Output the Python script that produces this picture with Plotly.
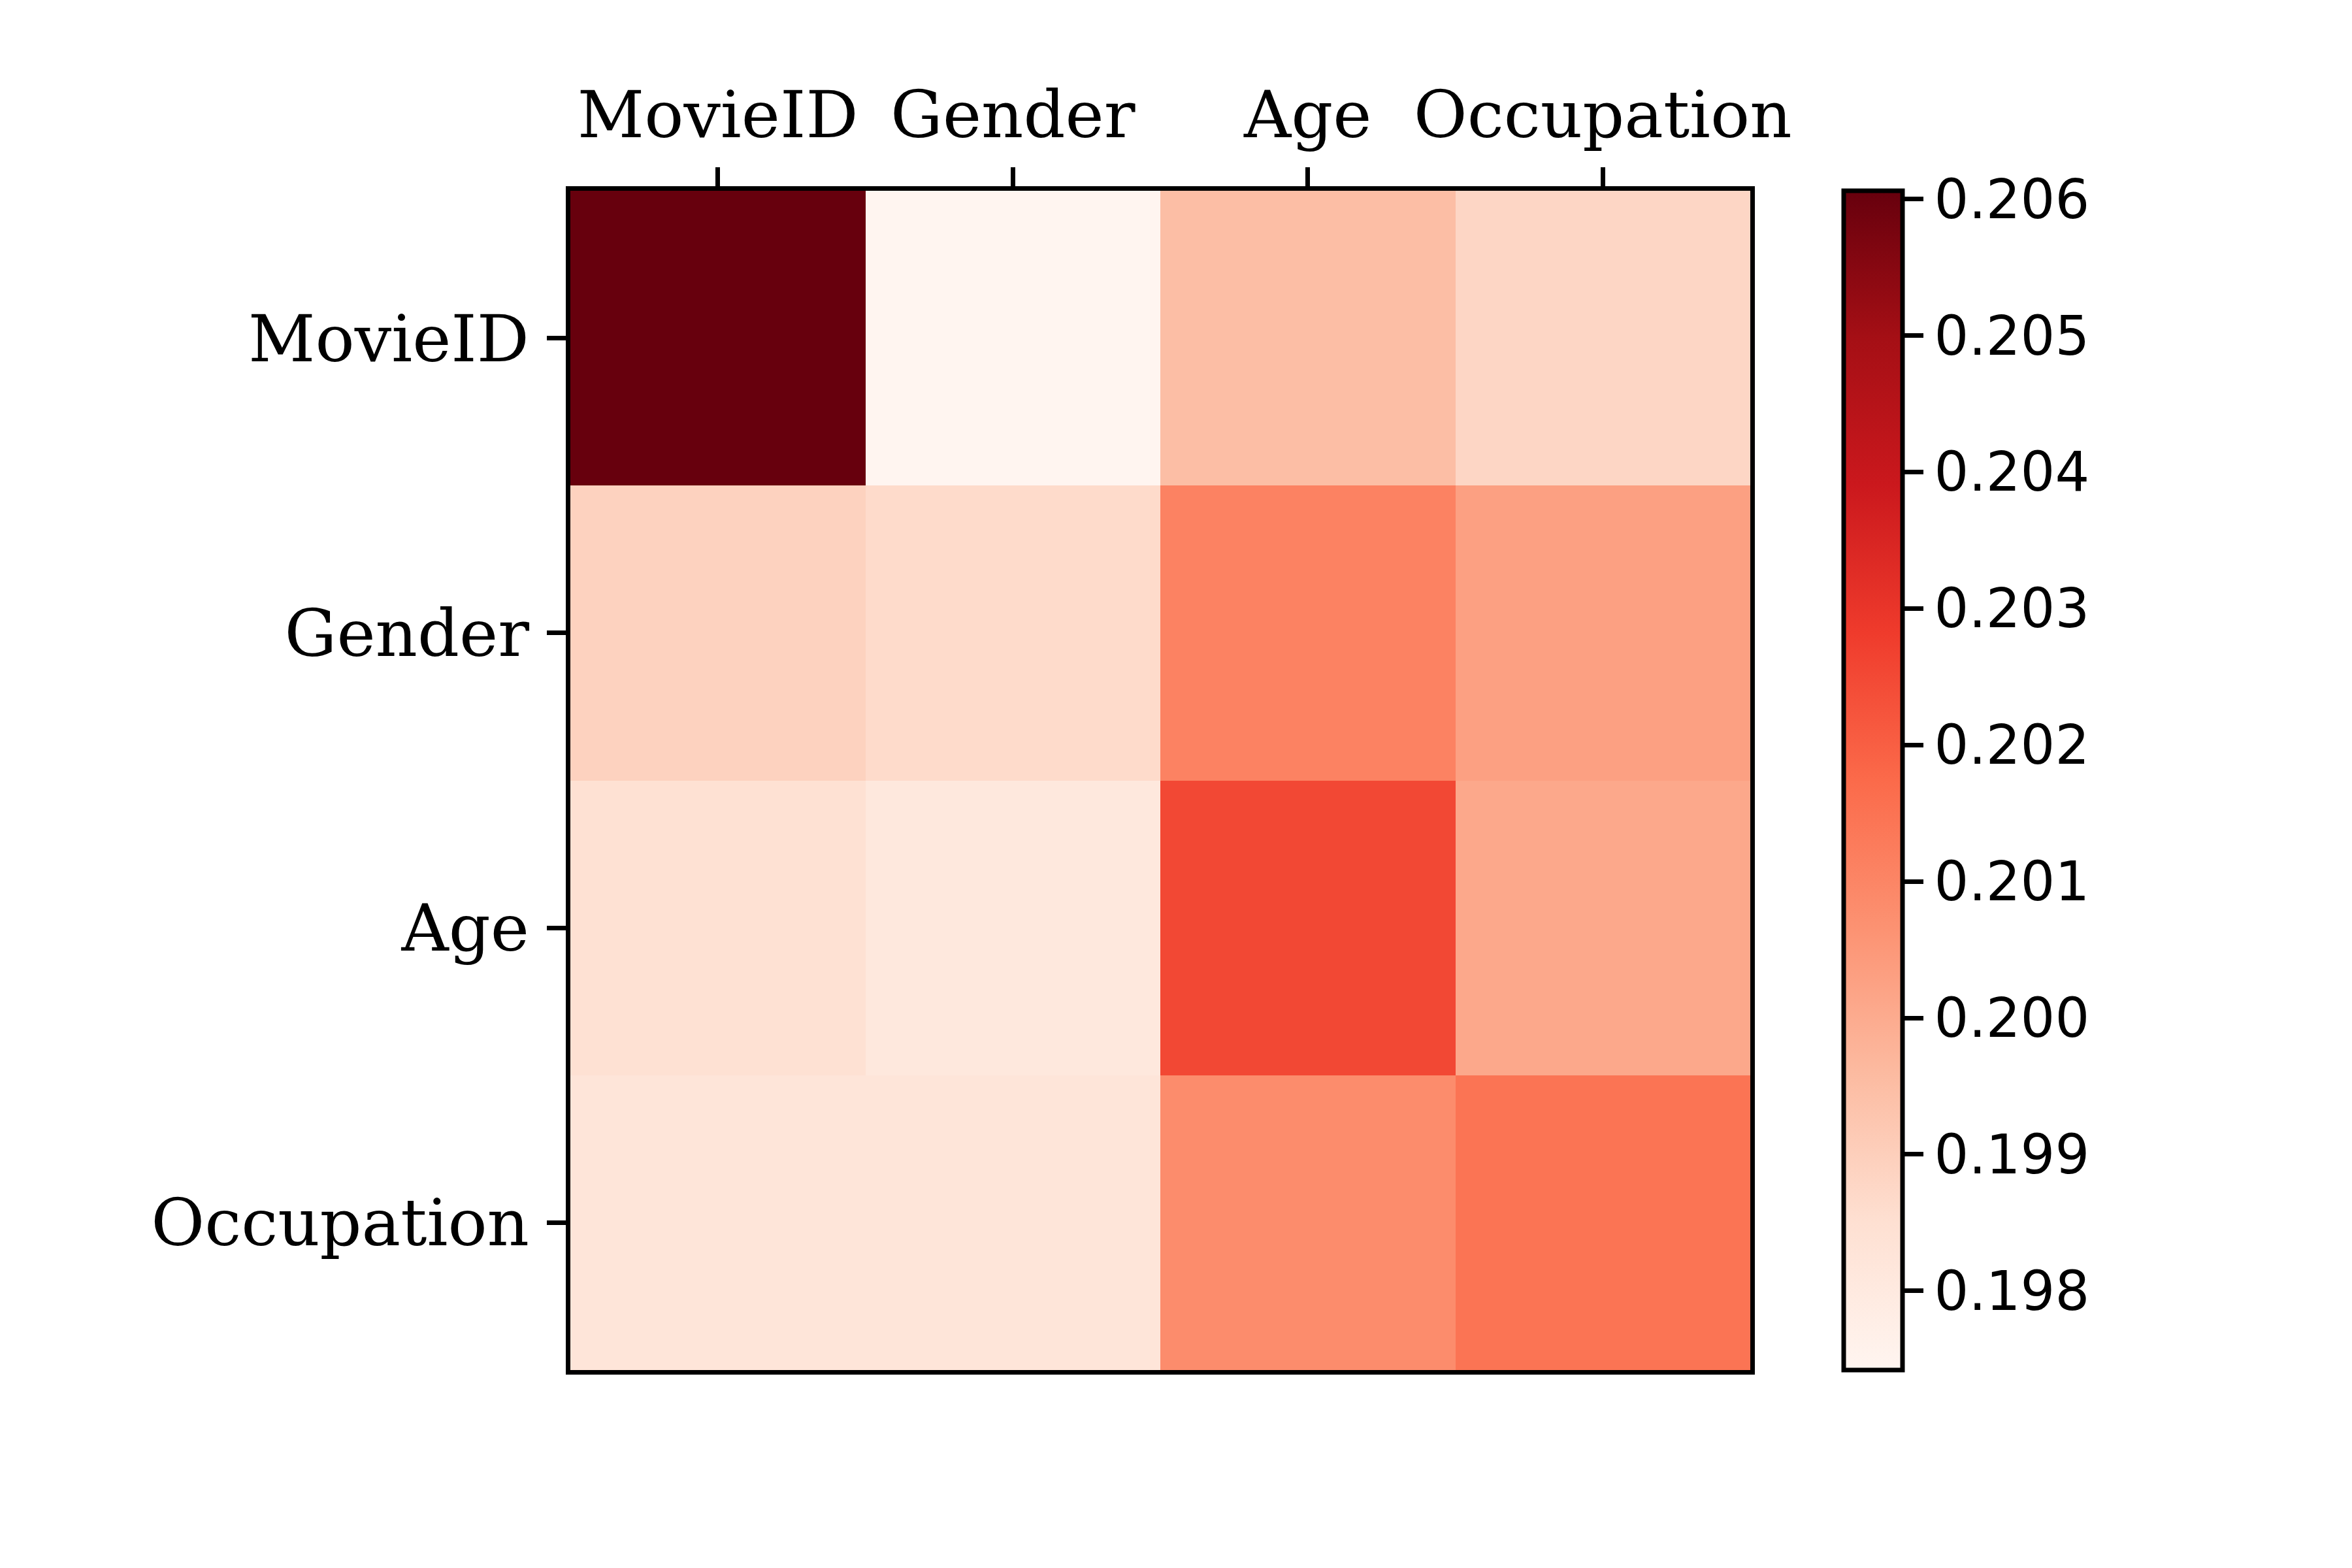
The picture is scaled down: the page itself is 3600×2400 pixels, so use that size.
import plotly.graph_objects as go

features = ["MovieID", "Gender", "Age", "Occupation"]

# rows top to bottom: MovieID, Gender, Age, Occupation
row_movieid = [0.20606, 0.19742, 0.19949, 0.19879]
row_gender = [0.19891, 0.19865, 0.20109, 0.20029]
row_age = [0.19846, 0.19809, 0.20252, 0.20008]
row_occupation = [0.19824, 0.19824, 0.20082, 0.20147]

z_min = 0.19742
z_max = 0.20606
cbar_ticks = [0.198, 0.199, 0.200, 0.201, 0.202, 0.203, 0.204, 0.205, 0.206]

reds = ["#fff5f0", "#fee0d2", "#fcbba1", "#fc9272", "#fb6a4a",
        "#ef3b2c", "#cb181d", "#a50f15", "#67000d"]
colorscale = [[i / 8, c] for i, c in enumerate(reds)]

# page has an 8px body margin, so the plot box is shifted back by that
W, H = 3600, 2400
L, R, T, B = 865, 2671, 284, 2089

heat = go.Heatmap(
    z=[row_movieid, row_gender, row_age, row_occupation],
    x=features,
    y=features,
    zmin=z_min,
    zmax=z_max,
    colorscale=colorscale,
    colorbar=dict(
        x=(2814.5 - L) / (R - L),
        xanchor="left",
        y=0.5,
        yanchor="middle",
        len=1.0,
        lenmode="fraction",
        thickness=90,
        thicknessmode="pixels",
        xpad=0,
        ypad=0,
        outlinewidth=7,
        outlinecolor="black",
        ticks="outside",
        ticklen=29,
        tickwidth=7,
        tickcolor="black",
        tickvals=cbar_ticks,
        tickformat=".3f",
        tickprefix="\u2006",
        tickfont=dict(family="DejaVu Sans", size=83, color="black"),
    ),
)

fig = go.Figure(data=[heat])

axis_font = dict(family="DejaVu Serif", size=100, color="black")
axis_style = dict(
    ticks="outside",
    ticklen=29,
    tickwidth=7,
    tickcolor="black",
    tickfont=axis_font,
    showline=True,
    linewidth=7,
    linecolor="black",
    mirror=True,
    showgrid=False,
    zeroline=False,
)

fig.update_layout(
    width=W,
    height=H,
    margin=dict(l=L, r=W - R, t=T, b=H - B, pad=0),
    paper_bgcolor="white",
    plot_bgcolor="white",
    xaxis=dict(side="top", ticklabelstandoff=6, **axis_style),
    yaxis=dict(autorange="reversed", ticklabelstandoff=7, **axis_style),
)

fig.write_html("out.html")
